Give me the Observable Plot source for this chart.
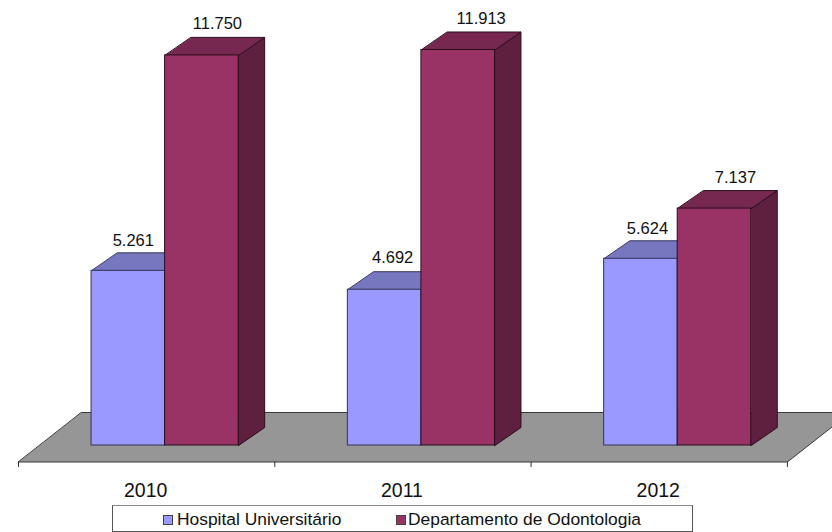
<!DOCTYPE html>
<html lang="pt">
<head>
<meta charset="utf-8">
<script src="https://cdn.jsdelivr.net/npm/d3@7"></script>
<script src="https://cdn.jsdelivr.net/npm/@observablehq/plot@0.6"></script>
<style>
  html, body { margin: 0; padding: 0; background: #fff; overflow: hidden; }
  #chart { position: relative; width: 832px; height: 532px; font-family: "Liberation Sans", Arial, sans-serif; }
  #chart svg { display: block; }
  #legend { position: absolute; left: 112px; top: 505px; width: 579px; height: 25px; border: 1px solid #555; border-top-color: #888; background: #fff; font-size: 17.4px; color: #111; }
  #legend span { position: absolute; top: 3px; white-space: nowrap; }
  #legend i { position: absolute; top: 9px; width: 8px; height: 8px; border: 1px solid #444; }
</style>
</head>
<body>
<div id="chart"></div>
<script>
const years = ["2010", "2011", "2012"];
const seriesNames = ["Hospital Universitário", "Departamento de Odontologia"];
const hospital = [5261, 4692, 5624];
const odontologia = [11750, 11913, 7137];
const labelNudge = [[5, 8, 6.5], [15.5, 23, 21]];
const labelLift = [[12, 14.5, 12.5], [14, 13, 13]];

const frontColors = ["#9999ff", "#993366"];
const topColors = ["#7777c0", "#772850"];
const sideColors = ["#7777c0", "#5f1f3f"];
const edgeColors = ["#33335a", "#2a0e1c"];

const W = 832, H = 504;
const groupPx = 256.3, pxPerUnit = 0.0332;
const xMin = -18 / groupPx, xMax = (W - 18) / groupPx;
const yMin = (445 - H) / pxPerUnit, yMax = 445 / pxPerUnit;

const barOffset = [0.285, 0.572], barWidth = 0.287;
const depthX = 26 / groupPx, depthY = 18 / pxPerUnit;
const floorDepthX = 63 / groupPx, floorBack = 33 / pxPerUnit, floorFront = -16.5 / pxPerUnit;
const tickEnd = -22 / pxPerUnit, yearY = -45 / pxPerUnit;

const values = [hospital, odontologia];
const bars = [];
values.forEach((vals, s) => vals.forEach((v, g) => {
  const x1 = g + barOffset[s], x2 = x1 + barWidth;
  bars.push({ s, g, v, x1, x2, label: v.toLocaleString("de-DE"),
              labelX: (x1 + x2) / 2 + labelNudge[s][g] / groupPx,
              labelY: v + depthY + labelLift[s][g] / pxPerUnit });
}));

const floor = [
  { x: 0, y: floorFront },
  { x: 3, y: floorFront },
  { x: 3 + floorDepthX, y: floorBack },
  { x: floorDepthX, y: floorBack }
];

function polygon(b, kind) {
  const { x1, x2, v } = b;
  const pts = kind === "top"
    ? [[x1, v], [x2, v], [x2 + depthX, v + depthY], [x1 + depthX, v + depthY]]
    : [[x2, 0], [x2 + depthX, depthY], [x2 + depthX, v + depthY], [x2, v]];
  return pts.map(([x, y]) => ({ x, y }));
}

const faceLine = (pts, fill, stroke) =>
  Plot.line(pts, { x: "x", y: "y", curve: "linear-closed", fill, stroke, strokeWidth: 1 });

const barMarks = [];
years.forEach((_, g) => {
  [0, 1].forEach(s => {
    const b = bars.find(d => d.g === g && d.s === s);
    if (s === 1) barMarks.push(faceLine(polygon(b, "side"), sideColors[s], edgeColors[s]));
    barMarks.push(faceLine(polygon(b, "top"), topColors[s], edgeColors[s]));
    barMarks.push(Plot.rect([b], { x1: "x1", x2: "x2", y1: 0, y2: "v", fill: frontColors[s], stroke: edgeColors[s], strokeWidth: 1 }));
  });
});

const plot = Plot.plot({
  width: W, height: H,
  marginTop: 0, marginRight: 0, marginBottom: 0, marginLeft: 0,
  x: { domain: [xMin, xMax], range: [0, W], axis: null },
  y: { domain: [yMin, yMax], range: [H, 0], axis: null },
  style: { fontFamily: '"Liberation Sans", Arial, sans-serif', background: "#fff", overflow: "hidden" },
  marks: [
    faceLine(floor, "#969696", "#3a3a3a"),
    Plot.ruleX([0, 1, 2, 3], { y1: floorFront, y2: tickEnd, stroke: "#333", strokeWidth: 1 }),
    ...barMarks,
    Plot.text(bars, { x: "labelX", y: "labelY", text: "label", fontSize: 16.5, fill: "#111" }),
    Plot.text(years, { x: (d, i) => i + 0.496, y: yearY, text: d => d, fontSize: 19.5, fill: "#111" })
  ]
});

const chart = document.getElementById("chart");
chart.appendChild(plot);

const legend = document.createElement("div");
legend.id = "legend";
[[50, 64], [283, 295]].forEach(([sx, tx], s) => {
  const sw = document.createElement("i");
  sw.style.left = sx + "px";
  sw.style.background = frontColors[s];
  const t = document.createElement("span");
  t.style.left = tx + "px";
  t.textContent = seriesNames[s];
  legend.append(sw, t);
});
chart.appendChild(legend);
</script>
</body>
</html>
